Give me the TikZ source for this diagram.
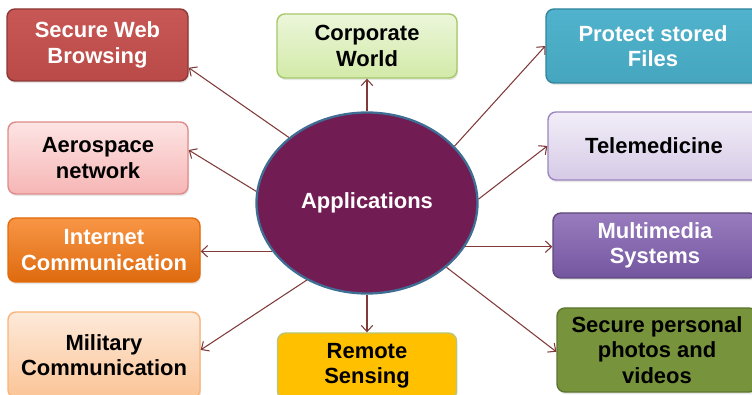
\documentclass[tikz,border=0pt]{standalone}
\usepackage{fontspec}
\setmainfont{Liberation Sans}
\usetikzlibrary{arrows.meta,shadows,shapes.geometric}

\definecolor{arrowred}{RGB}{128,58,58}
\definecolor{appfill}{RGB}{114,28,84}
\definecolor{appedge}{RGB}{63,110,148}

\tikzset{
	appbox/.style={rectangle, rounded corners=4.5pt, line width=0.8pt, align=center,
		font=\fontsize{12.5}{14.5}\selectfont\bfseries, inner sep=2pt,
		drop shadow={opacity=0.18, shadow xshift=0.6pt, shadow yshift=-1.2pt}},
	link/.style={line width=0.6pt, color=arrowred, -{Straight Barb[length=3.5pt,width=6.5pt]}}
}

\begin{document}
\begin{tikzpicture}
			%%%%% START %%%%%
			
			\fill[white] (0, 0) rectangle (15.04, 7.88);
			\clip (0, 0) rectangle (15.04, 7.88);
			
			% centre
			\node[ellipse, minimum width=4.42cm, minimum height=3.62cm, fill=appfill, draw=appedge, line width=1.3pt, text=white, font=\fontsize{12.5}{14.5}\selectfont\bfseries] (app) at (7.34, 3.82) {Applications};
			
			% left column
			\node[appbox, minimum width=3.62cm, minimum height=1.44cm, top color={rgb,255:red,200;green,88;blue,85}, bottom color={rgb,255:red,186;green,74;blue,71}, draw={rgb,255:red,140;green,56;blue,54}, text=white] (swb) at (1.95, 6.98) {Secure Web\\Browsing};
			\node[appbox, minimum width=3.60cm, minimum height=1.44cm, top color={rgb,255:red,253;green,228;blue,228}, bottom color={rgb,255:red,246;green,182;blue,181}, draw={rgb,255:red,222;green,140;blue,138}] (aer) at (1.96, 4.72) {Aerospace\\network};
			\node[appbox, minimum width=3.84cm, minimum height=1.28cm, top color={rgb,255:red,248;green,150;blue,70}, bottom color={rgb,255:red,222;green,106;blue,14}, draw={rgb,255:red,228;green,108;blue,10}, text=white] (inet) at (2.08, 2.88) {Internet\\Communication};
			\node[appbox, minimum width=3.84cm, minimum height=1.72cm, top color={rgb,255:red,253;green,234;blue,218}, bottom color={rgb,255:red,251;green,196;blue,150}, draw={rgb,255:red,248;green,180;blue,120}] (mil) at (2.08, 0.78) {Military\\Communication};
			
			% middle column
			\node[appbox, minimum width=3.60cm, minimum height=1.28cm, top color={rgb,255:red,236;green,246;blue,218}, bottom color={rgb,255:red,210;green,234;blue,168}, draw={rgb,255:red,166;green,200;blue,106}] (corp) at (7.34, 6.96) {Corporate\\World};
			\node[appbox, minimum width=3.58cm, minimum height=1.32cm, fill={rgb,255:red,255;green,192;blue,0}, draw={rgb,255:red,186;green,198;blue,122}] (rem) at (7.34, 0.56) {Remote\\Sensing};
			
			% right column
			\node[appbox, minimum width=4.28cm, minimum height=1.48cm, top color={rgb,255:red,80;green,178;blue,204}, bottom color={rgb,255:red,70;green,166;blue,192}, draw={rgb,255:red,49;green,133;blue,156}, text=white] (prot) at (13.06, 6.96) {Protect stored\\Files};
			\node[appbox, minimum width=4.24cm, minimum height=1.36cm, top color={rgb,255:red,242;green,238;blue,248}, bottom color={rgb,255:red,214;green,202;blue,230}, draw={rgb,255:red,156;green,133;blue,192}] (tele) at (13.08, 4.96) {Telemedicine};
			\node[appbox, minimum width=4.08cm, minimum height=1.30cm, top color={rgb,255:red,152;green,124;blue,190}, bottom color={rgb,255:red,116;green,86;blue,160}, draw={rgb,255:red,95;green,73;blue,122}, text=white] (mm) at (13.10, 2.97) {Multimedia\\Systems};
			\node[appbox, minimum width=4.00cm, minimum height=1.68cm, fill={rgb,255:red,119;green,147;blue,60}, draw={rgb,255:red,94;green,117;blue,48}] (sp) at (13.14, 0.88) {Secure personal\\photos and\\videos};
			
			% arrows out of the centre
			\draw[link] (app.140) -- (swb.-14);
			\draw[link] (app.174) -- (aer.5);
			\draw[link] (app.207) -- (app.207 -| inet.east);
			\draw[link] (app.232) -- (mil.3);
			\draw[link] (app.north) -- (corp.south);
			\draw[link] (app.south) -- (rem.north);
			\draw[link] (app.33) -- (prot.west);
			\draw[link] (app.2) -- (tele.west);
			\draw[link] (app.-24) -- (app.-24 -| mm.west);
			\draw[link] (app.-39) -- (sp.181);
			
			%%%%% END %%%%%
\end{tikzpicture}
\end{document}
